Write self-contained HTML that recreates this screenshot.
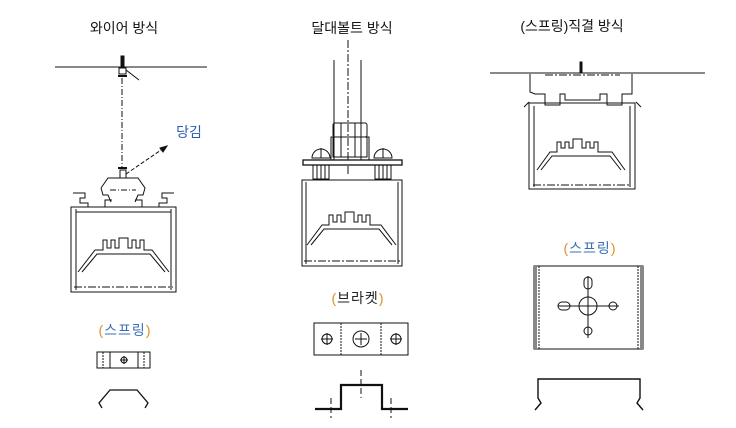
<!DOCTYPE html>
<html><head><meta charset="utf-8"><style>
html,body{margin:0;padding:0;background:#fff;width:736px;height:428px;overflow:hidden}
svg{display:block}
text{font-family:"Liberation Sans","Noto Sans CJK KR",sans-serif;font-size:14px}
</style></head><body>
<svg width="736" height="428" viewBox="0 0 736 428" xmlns="http://www.w3.org/2000/svg" fill="none" stroke="#111" stroke-width="1">
<g fill="#111" stroke="none" text-anchor="middle">
<text x="124" y="33">와이어 방식</text>
<text x="352" y="33">달대볼트 방식</text>
<text x="572" y="31">(스프링)직결 방식</text>
<text x="189" y="137" fill="#2a5db0">당김</text>
</g>
<g stroke="none" text-anchor="middle" letter-spacing="1">
<text x="125" y="335" fill="#3a6fb8"><tspan fill="#e08a2a">(</tspan>스프링<tspan fill="#e08a2a">)</tspan></text>
<text x="358" y="303" fill="#222"><tspan fill="#e08a2a">(</tspan>브라켓<tspan fill="#e08a2a">)</tspan></text>
<text x="590" y="253" fill="#3a6fb8"><tspan fill="#e08a2a">(</tspan>스프링<tspan fill="#e08a2a">)</tspan></text>
</g>

<!-- LEFT: wire -->
<line x1="55" y1="67" x2="207" y2="67"/>
<rect x="121" y="56" width="3" height="12" fill="#111"/>
<rect x="119" y="68" width="7" height="6"/>
<line x1="118" y1="76" x2="127" y2="76" stroke-width="2"/>
<line x1="126" y1="70" x2="139" y2="80"/>
<line x1="122" y1="78" x2="122" y2="168" stroke-dasharray="6,2,1,2"/>
<line x1="118" y1="168" x2="127" y2="168" stroke-width="2"/>
<rect x="120" y="170" width="6" height="8"/>
<line x1="126" y1="174" x2="164" y2="148" stroke-dasharray="4,2"/>
<polygon points="167,146 160,148 163,152" fill="#111"/>
<path d="M101,188 L108,178 L138,178 L145,188 L143,195 L138,195 L135,202 M101,188 L103,195 L108,195 L111,202"/>
<line x1="110" y1="190" x2="136" y2="190" stroke-dasharray="6,2,1,2"/>
<path d="M73,193 L85,193 L85,198 L80,198 L80,203 L88,203 L88,207 L105,207 L105,200 L112,200 M174,193 L162,193 L162,198 L167,198 L167,203 L159,203 L159,207 L142,207 L142,200 L135,200"/>
<rect x="71" y="207" width="105" height="85"/>
<line x1="76" y1="209" x2="76" y2="290"/><line x1="171" y1="209" x2="171" y2="290"/>
<line x1="76" y1="212" x2="171" y2="212"/>
<path d="M78,272 L95,250 L103,250 L103,240 L107,240 L107,248 L111,248 L111,240 L115,240 L115,248 L119,248 L119,238 L128,238 L128,248 L132,248 L132,240 L136,240 L136,248 L140,248 L140,240 L144,240 L144,250 L152,250 L169,272"/>
<path d="M82,272 L97,254 L150,254 L165,272"/>
<line x1="74" y1="287" x2="173" y2="287" stroke-dasharray="8,2,2,2"/>
<!-- left spring -->
<rect x="97" y="352" width="53" height="16"/>
<line x1="103" y1="352" x2="103" y2="368" stroke-dasharray="2,1"/>
<line x1="110" y1="352" x2="110" y2="368"/>
<line x1="138" y1="352" x2="138" y2="368"/>
<line x1="144" y1="352" x2="144" y2="368" stroke-dasharray="2,1"/>
<circle cx="124" cy="360" r="3"/><line x1="120" y1="360" x2="128" y2="360"/><line x1="124" y1="356" x2="124" y2="364"/>
<path d="M102,408 L99,403 L110,390 L137,390 L148,403 L145,408" stroke-width="1.3"/>

<!-- MIDDLE -->
<line x1="348" y1="40" x2="348" y2="175" stroke-dasharray="8,2,2,2"/>
<line x1="334" y1="60" x2="334" y2="160"/><line x1="361" y1="60" x2="361" y2="160"/>
<rect x="333" y="123" width="34" height="14" rx="2"/>
<rect x="331" y="137" width="38" height="23"/>
<rect x="333" y="137" width="34" height="20"/>
<line x1="341" y1="123" x2="341" y2="157"/><line x1="355" y1="123" x2="355" y2="157"/>
<rect x="303" y="160" width="99" height="5" fill="#fff" stroke-width="1.3"/>
<path d="M312,158 A9,9 0 0 1 330,158 Z"/><line x1="321" y1="148" x2="321" y2="158"/>
<rect x="313" y="165" width="16" height="14"/><line x1="317" y1="165" x2="317" y2="179"/><line x1="321" y1="165" x2="321" y2="179"/><line x1="325" y1="165" x2="325" y2="179"/>
<path d="M374,158 A9,9 0 0 1 392,158 Z"/><line x1="383" y1="148" x2="383" y2="158"/>
<rect x="375" y="165" width="16" height="14"/><line x1="379" y1="165" x2="379" y2="179"/><line x1="383" y1="165" x2="383" y2="179"/><line x1="387" y1="165" x2="387" y2="179"/>
<rect x="302" y="180" width="100" height="86"/>
<line x1="306" y1="182" x2="306" y2="264"/><line x1="398" y1="182" x2="398" y2="264"/>
<path d="M307,245 L322,225 L329,225 L329,215 L333,215 L333,222 L337,222 L337,215 L341,215 L341,222 L345,222 L345,212 L354,212 L354,222 L358,222 L358,215 L362,215 L362,222 L366,222 L366,215 L370,215 L370,225 L381,225 L396,245"/>
<path d="M311,245 L324,229 L379,229 L392,245"/>
<line x1="304" y1="261" x2="400" y2="261" stroke-dasharray="8,2,2,2"/>
<rect x="314" y="323" width="94" height="32"/>
<line x1="341" y1="323" x2="341" y2="355" stroke-dasharray="2,1"/>
<line x1="381" y1="323" x2="381" y2="355" stroke-dasharray="2,1"/>
<circle cx="327" cy="339" r="5"/><line x1="321" y1="339" x2="333" y2="339"/><line x1="327" y1="333" x2="327" y2="345"/>
<circle cx="361" cy="339" r="8"/><line x1="355" y1="339" x2="367" y2="339"/><line x1="361" y1="333" x2="361" y2="345"/>
<circle cx="396" cy="339" r="5"/><line x1="390" y1="339" x2="402" y2="339"/><line x1="396" y1="333" x2="396" y2="345"/>
<path d="M315,409 L341,409 L341,385 L382,385 L382,409 L408,409" stroke-width="2.2"/>
<line x1="361" y1="370" x2="361" y2="398" stroke-dasharray="6,3"/>
<line x1="331" y1="398" x2="331" y2="418" stroke-dasharray="6,3"/>
<line x1="391" y1="398" x2="391" y2="418" stroke-dasharray="6,3"/>

<!-- RIGHT -->
<line x1="490" y1="73" x2="705" y2="73"/>
<rect x="580" y="62" width="2" height="11" fill="#111"/>
<path d="M530,74 L530,92 L535,94 L545,94 L545,105 L560,105 L560,94 L565,94 L565,100 L600,100 L600,94 L607,94 L607,105 L622,105 L622,94 L632,94 L632,74"/>
<line x1="545" y1="75" x2="620" y2="75" stroke-dasharray="8,2,2,2"/>
<path d="M529,102 L524,107 M636,102 L641,107"/>
<rect x="529" y="103" width="106" height="86"/>
<line x1="534" y1="106" x2="534" y2="187"/><line x1="630" y1="106" x2="630" y2="187"/>
<path d="M537,170 L550,152 L557,152 L557,142 L561,142 L561,148 L565,148 L565,142 L569,142 L569,148 L573,148 L573,139 L582,139 L582,148 L586,148 L586,142 L590,142 L590,148 L594,148 L594,142 L598,142 L598,152 L612,152 L625,170"/>
<path d="M541,170 L552,156 L610,156 L621,170"/>
<line x1="533" y1="185" x2="631" y2="185" stroke-dasharray="8,2,2,2"/>
<rect x="534" y="266" width="109" height="83"/>
<rect x="534" y="266" width="3" height="83" fill="#888" stroke="none"/>
<rect x="640" y="266" width="3" height="83" fill="#888" stroke="none"/>
<line x1="539" y1="266" x2="539" y2="349" stroke-dasharray="2,1"/>
<line x1="638" y1="266" x2="638" y2="349" stroke-dasharray="2,1"/>
<circle cx="588" cy="306" r="9"/>
<line x1="558" y1="306" x2="619" y2="306"/><line x1="588" y1="276" x2="588" y2="338"/>
<rect x="584" y="277" width="8" height="12" rx="4"/>
<rect x="558" y="302" width="12" height="8" rx="4"/>
<circle cx="613" cy="306" r="4"/>
<circle cx="588" cy="331" r="4"/>
<path d="M535,410 L541,403 L538,398 L538,379 L640,379 L640,398 L637,403 L643,410" stroke-width="1.4"/>
</svg>
</body></html>
